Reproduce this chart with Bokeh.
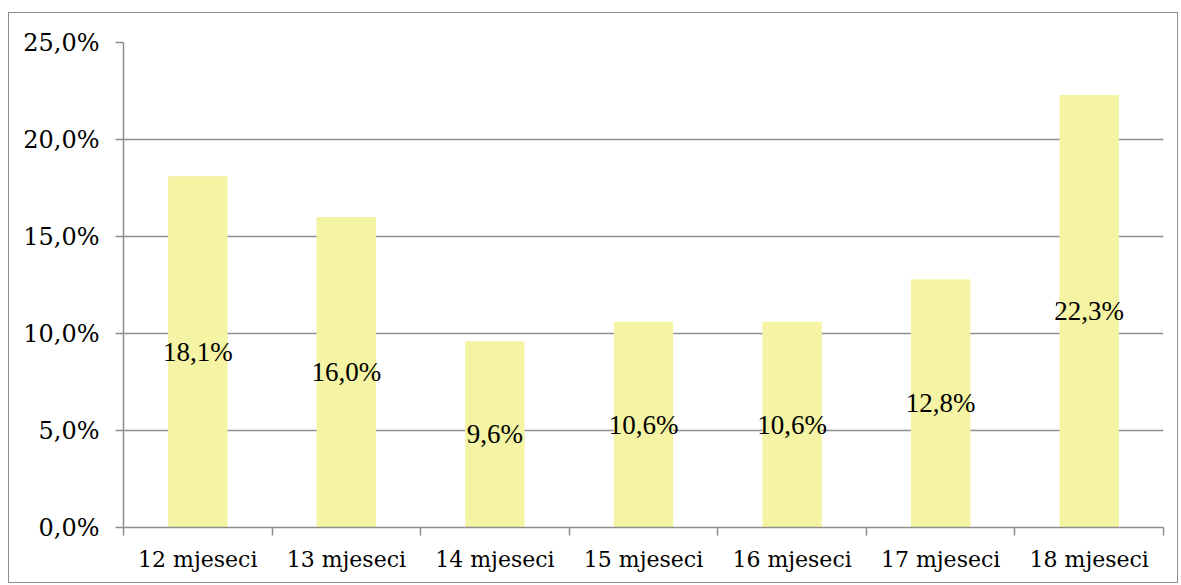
from bokeh.plotting import figure
from bokeh.models import Range1d, FixedTicker, CustomJSTickFormatter, ColumnDataSource, LabelSet
from bokeh.embed import file_html
from bokeh.resources import INLINE

categories = ["12 mjeseci", "13 mjeseci", "14 mjeseci", "15 mjeseci", "16 mjeseci", "17 mjeseci", "18 mjeseci"]
values = [18.1, 16.0, 9.6, 10.6, 10.6, 12.8, 22.3]
y_ticks = [0, 5, 10, 15, 20, 25]

FONT = "DejaVu Serif"
FS = "22px"
GRID = "#8e8e8e"

xs = [i + 0.5 for i in range(len(categories))]
labels = [f"{v:.1f}%".replace(".", ",") for v in values]
src = ColumnDataSource(dict(x=xs, top=values, mid=[v / 2 for v in values], lab=labels))

p = figure(width=1170, height=571, output_backend="svg", toolbar_location=None,
           x_range=Range1d(0, len(categories)), y_range=Range1d(0, 25),
           min_border_left=114, min_border_right=16, min_border_top=29, min_border_bottom=57)
p.styles = {"border": "1px solid #8c8c8c", "margin-left": "8px", "margin-top": "12px"}
p.outline_line_color = None
p.background_fill_color = "white"

p.vbar(x="x", top="top", width=0.4, bottom=0, source=src, fill_color="#F4F4A4", line_color=None)
p.add_layout(LabelSet(x="x", y="mid", text="lab", source=src, text_align="center",
                      text_baseline="middle", text_font=FONT, text_font_size="27px",
                      text_color="black"))

p.xgrid.visible = False
p.ygrid.ticker = FixedTicker(ticks=y_ticks)
p.ygrid.grid_line_color = GRID
p.ygrid.grid_line_width = 1.5

yax = p.yaxis[0]
yax.ticker = FixedTicker(ticks=y_ticks)
yax.formatter = CustomJSTickFormatter(code="return tick.toFixed(1).replace('.', ',') + '%';")
yax.axis_line_color = GRID
yax.axis_line_width = 1.5
yax.major_tick_line_color = GRID
yax.major_tick_line_width = 1.5
yax.major_tick_out = 8
yax.major_tick_in = 0
yax.minor_tick_line_color = None
yax.major_label_text_font = FONT
yax.major_label_text_font_size = "24px"
yax.major_label_text_color = "black"
yax.major_label_standoff = 16

xax = p.xaxis[0]
xax.ticker = FixedTicker(ticks=xs, minor_ticks=list(range(len(categories) + 1)))
xax.major_label_overrides = {x: c for x, c in zip(xs, categories)}
xax.axis_line_color = GRID
xax.axis_line_width = 1.5
xax.major_tick_line_color = None
xax.minor_tick_line_color = GRID
xax.minor_tick_line_width = 1.5
xax.minor_tick_out = 8
xax.minor_tick_in = 0
xax.major_label_text_font = FONT
xax.major_label_text_font_size = FS
xax.major_label_text_color = "black"
xax.major_label_standoff = 11

open("out.html", "w").write(file_html(p, INLINE))
